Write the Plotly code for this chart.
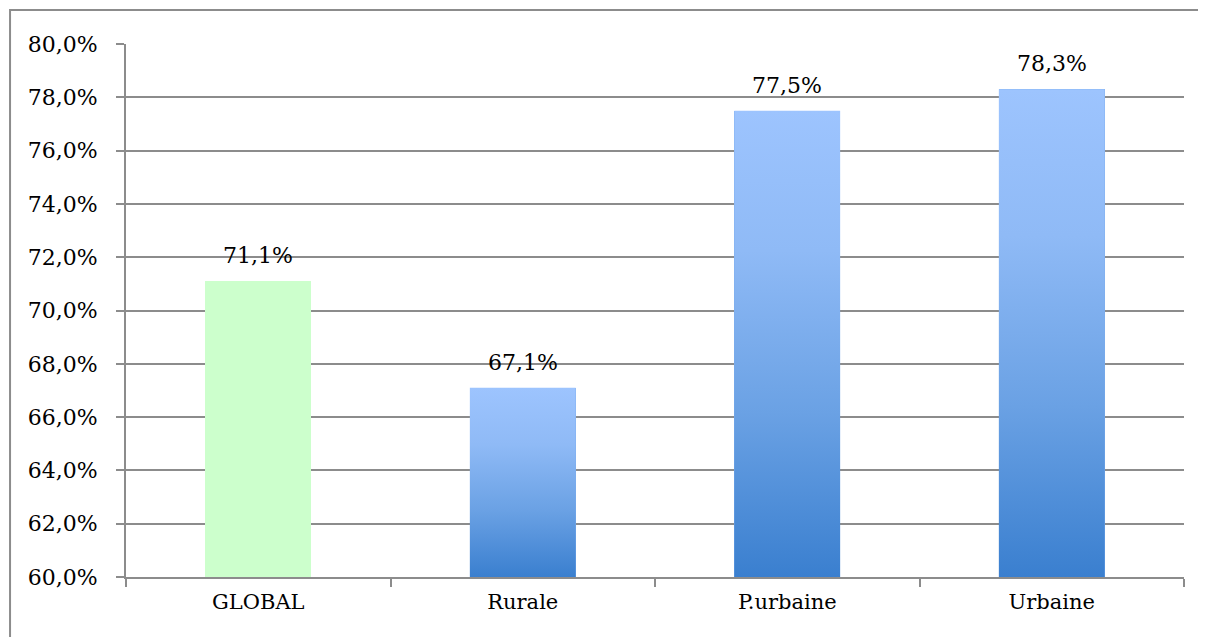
import plotly.graph_objects as go

categories = ["GLOBAL", "Rurale", "P.urbaine", "Urbaine"]
values = [71.1, 67.1, 77.5, 78.3]
y_ticks = [60, 62, 64, 66, 68, 70, 72, 74, 76, 78, 80]

BASE = 60
BAR_W = 0.4
GRID = "#8c8c8c"
FONT = "DejaVu Serif"


def pct(v):
    return f"{v:.1f}%".replace(".", ",")


def main():
    xs = list(range(len(categories)))
    fig = go.Figure()

    # green bar for the total, blue bars get a gradient overlay below
    colors = ["#ccffcc"] + ["#7aabec"] * (len(values) - 1)
    fig.add_trace(go.Bar(
        x=xs, y=[v - BASE for v in values], base=BASE, width=BAR_W,
        marker=dict(color=colors, line=dict(width=0)),
        showlegend=False, hoverinfo="skip",
    ))

    # vertical gradient for the blue bars (dark bottom -> light top)
    for x, v in zip(xs[1:], values[1:]):
        x0, x1 = x - BAR_W / 2, x + BAR_W / 2
        fig.add_trace(go.Scatter(
            x=[x0, x1, x1, x0, x0], y=[BASE, BASE, v, v, BASE],
            mode="lines", fill="toself", line=dict(width=0),
            fillgradient=dict(type="vertical", colorscale=[
                [0, "#3a7fcf"], [0.35, "#6aa1e4"], [0.7, "#8fbaf6"], [1, "#9dc4fe"]]),
            showlegend=False, hoverinfo="skip",
        ))

    # data labels
    for x, v in zip(xs, values):
        fig.add_annotation(
            x=x, y=v, text=pct(v),
            showarrow=False, yanchor="bottom", yshift=11,
            font=dict(family=FONT, size=22, color="#000"),
        )

    # outer frame (only top and left edges visible)
    fig.add_shape(type="rect", xref="paper", yref="paper",
                  x0=-0.1096, x1=1.05, y0=-0.3, y1=1.0638,
                  line=dict(color="#8c8c8c", width=2), layer="below")

    # page body has an 8px margin, so the figure is 8px smaller each way
    fig.update_layout(
        width=1198, height=629,
        margin=dict(l=118, r=22, t=36, b=60),
        plot_bgcolor="white", paper_bgcolor="white",
        font=dict(family=FONT, size=21, color="#000"),
        bargap=0,
    )
    fig.update_xaxes(
        range=[-0.5, len(categories) - 0.5],
        tickvals=xs, ticktext=categories, ticks="", ticklabelstandoff=5,
        showgrid=False, zeroline=False,
        showline=True, linecolor=GRID, linewidth=2,
        minor=dict(tickvals=[i - 0.5 for i in range(len(categories) + 1)],
                   ticks="outside", ticklen=8, tickwidth=2, tickcolor=GRID,
                   showgrid=False),
        tickfont=dict(family=FONT, size=21),
    )
    fig.update_yaxes(
        range=[y_ticks[0], y_ticks[-1]], tickvals=y_ticks,
        ticktext=[pct(t) for t in y_ticks],
        ticks="outside", ticklen=8, tickwidth=2, tickcolor=GRID,
        ticklabelstandoff=14,
        showgrid=True, gridcolor=GRID, gridwidth=2, zeroline=False,
        showline=True, linecolor=GRID, linewidth=2,
        tickfont=dict(family=FONT, size=22),
    )

    fig.write_html("out.html")


if __name__ == "__main__":
    main()
